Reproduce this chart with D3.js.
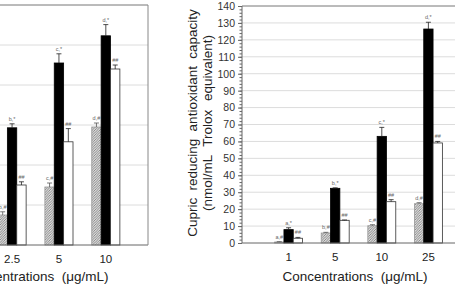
<!DOCTYPE html>
<html>
<head>
<meta charset="utf-8">
<script src="https://cdn.jsdelivr.net/npm/d3@7"></script>
<style>
  html, body { margin: 0; padding: 0; background: #fff; }
  svg { display: block; font-family: Arial, "Liberation Sans", sans-serif; }
</style>
</head>
<body>
<svg id="chart" width="455" height="285"></svg>
<script>
// left panel (cut off by the picture edge)
const leftCats = ["1", "2.5", "5", "10"];
const leftHatched = [3.0, 7.5, 14.5, 29.5];
const leftHatchedErr = [0.5, 0.8, 1.0, 1.0];
const leftBlack = [14.0, 29.3, 45.5, 52.3];
const leftBlackErr = [1.0, 1.0, 2.3, 2.8];
const leftWhite = [8.0, 15.0, 25.8, 44.0];
const leftWhiteErr = [0.8, 0.8, 3.3, 1.0];
const leftHatchedLbl = ["a,#", "b,#", "c,#", "d,#"];
const leftBlackLbl = ["a,*", "b,*", "c,*", "d,*"];

// right panel
const rightCats = ["1", "5", "10", "25"];
const rightHatched = [0.6, 5.9, 10.2, 23.2];
const rightHatchedErr = [0.2, 0.4, 0.6, 0.6];
const rightBlack = [7.9, 32.3, 63.0, 126.4];
const rightBlackErr = [1.1, 0.3, 5.3, 4.0];
const rightWhite = [2.8, 13.4, 24.4, 59.1];
const rightWhiteErr = [0.5, 0.2, 1.2, 0.9];
const rightHatchedLbl = ["a,#", "b,#", "c,#", "d,#"];
const rightBlackLbl = ["a,*", "b,*", "c,*", "d,*"];
const whiteLbl = "##";

const rightTicks = d3.range(0, 141, 10);
const yTitle1 = "Cupric reducing antioxidant capacity";
const yTitle2 = "(nmol/mL Trolox equivalent)";
const xTitle = "Concentrations  (\u03bcg/mL)";

const svg = d3.select("#chart");

const defs = svg.append("defs");
const pat = defs.append("pattern")
    .attr("id", "hatch")
    .attr("patternUnits", "userSpaceOnUse")
    .attr("width", 2.5)
    .attr("height", 2.5);
pat.append("rect").attr("width", 2.5).attr("height", 2.5).attr("fill", "#dadada");
pat.append("path")
    .attr("d", "M-1,1 L1,-1 M0,2.5 L2.5,0 M1.5,3.5 L3.5,1.5")
    .attr("stroke", "#6a6a6a")
    .attr("stroke-width", 0.7);

function drawPanel(p) {
    const g = svg.append("g");
    const x = d3.scalePoint().domain(p.cats).range([p.left, p.right]).padding(p.pad);
    const y = d3.scaleLinear().domain(p.yDomain).range([p.bottom, p.top]);
    const barW = x.step() * 0.2;

    // gridlines
    g.selectAll(".grid").data(p.grid).enter().append("line")
        .attr("x1", p.left).attr("x2", p.right)
        .attr("y1", d => y(d)).attr("y2", d => y(d))
        .attr("stroke", "#dcdcdc").attr("stroke-width", 1);

    const series = [
        { vals: p.hatched, err: p.hatchedErr, lbl: p.hatchedLbl, off: -1.5, fill: "url(#hatch)", stroke: "#999" },
        { vals: p.black, err: p.blackErr, lbl: p.blackLbl, off: -0.5, fill: "#000", stroke: "#000" },
        { vals: p.white, err: p.whiteErr, lbl: p.cats.map(() => whiteLbl), off: 0.5, fill: "#fff", stroke: "#333" }
    ];

    series.forEach(s => {
        const gs = g.append("g");
        const bx = (d, i) => x(p.cats[i]) + s.off * barW;
        gs.selectAll("rect").data(s.vals).enter().append("rect")
            .attr("x", bx)
            .attr("y", d => y(d))
            .attr("width", barW)
            .attr("height", d => y(0) - y(d))
            .attr("fill", s.fill)
            .attr("stroke", s.stroke)
            .attr("stroke-width", 0.8);
        // error bars (upper half only)
        gs.selectAll(".eb").data(s.vals).enter().append("path")
            .attr("d", (d, i) => {
                const cx = bx(d, i) + barW / 2;
                const yt = y(d + s.err[i]);
                return `M${cx},${y(d)} V${yt} M${cx - 2.5},${yt} H${cx + 2.5}`;
            })
            .attr("stroke", s.stroke === "#999" ? "#555" : "#222")
            .attr("stroke-width", 0.8)
            .attr("fill", "none");
        gs.selectAll("text").data(s.vals).enter().append("text")
            .attr("x", (d, i) => bx(d, i) + barW / 2)
            .attr("y", (d, i) => y(d + s.err[i]) - 3)
            .attr("text-anchor", "middle")
            .attr("font-size", "5.5px")
            .attr("fill", "#666")
            .text((d, i) => s.lbl[i]);
    });

    // frame / axes
    g.append("line").attr("x1", p.left).attr("x2", p.right).attr("y1", p.top).attr("y2", p.top)
        .attr("stroke", "#777");
    g.append("line").attr("x1", p.left).attr("x2", p.right).attr("y1", p.bottom).attr("y2", p.bottom)
        .attr("stroke", "#666");
    g.append("line").attr("x1", p.left).attr("x2", p.left).attr("y1", p.top).attr("y2", p.bottom)
        .attr("stroke", "#666");
    if (p.rightFrame) {
        g.append("line").attr("x1", p.right).attr("x2", p.right).attr("y1", p.top).attr("y2", p.bottom)
            .attr("stroke", "#888");
    }

    // y axis
    if (p.yTicks) {
        const ax = g.append("g").attr("transform", `translate(${p.left},0)`)
            .call(d3.axisLeft(y).tickValues(p.yTicks).tickSize(4).tickPadding(3));
        ax.select(".domain").remove();
        ax.selectAll("line").attr("stroke", "#666");
        ax.selectAll("text").attr("font-size", "10.5px").attr("fill", "#333")
            .attr("font-family", "Arial, 'Liberation Sans', sans-serif");
        const minor = g.append("g").attr("transform", `translate(${p.left},0)`)
            .call(d3.axisLeft(y).tickValues(d3.range(p.yDomain[0], p.yDomain[1] + 0.1, 2)).tickSize(2.5).tickFormat(""));
        minor.select(".domain").remove();
        minor.selectAll("line").attr("stroke", "#666");
    }

    // x labels
    g.selectAll(".xl").data(p.cats).enter().append("text")
        .attr("x", d => x(d))
        .attr("y", p.bottom + 18)
        .attr("text-anchor", "middle")
        .attr("font-size", "11.5px")
        .attr("fill", "#222")
        .text(d => d);

    g.append("text")
        .attr("x", p.titleX)
        .attr("y", 281)
        .attr("text-anchor", "middle")
        .attr("font-size", "13.5px")
        .attr("fill", "#222")
        .attr("xml:space", "preserve")
        .style("white-space", "pre")
        .text(xTitle);
}

drawPanel({
    cats: leftCats, left: -77, right: 148, top: 5, bottom: 245, pad: 0.9,
    yDomain: [0, 60], grid: d3.range(10, 60, 10),
    hatched: leftHatched, hatchedErr: leftHatchedErr, hatchedLbl: leftHatchedLbl,
    black: leftBlack, blackErr: leftBlackErr, blackLbl: leftBlackLbl,
    white: leftWhite, whiteErr: leftWhiteErr,
    rightFrame: true, yTicks: null, titleX: 36
});

drawPanel({
    cats: rightCats, left: 242, right: 475, top: 6, bottom: 243, pad: 1,
    yDomain: [0, 140], grid: d3.range(10, 140, 10),
    hatched: rightHatched, hatchedErr: rightHatchedErr, hatchedLbl: rightHatchedLbl,
    black: rightBlack, blackErr: rightBlackErr, blackLbl: rightBlackLbl,
    white: rightWhite, whiteErr: rightWhiteErr,
    rightFrame: false, yTicks: rightTicks, titleX: 355
});

// y title of right panel
const yt = svg.append("g").attr("transform", "translate(0,123) rotate(-90)");
yt.append("text")
    .attr("x", 0).attr("y", 197)
    .attr("text-anchor", "middle")
    .attr("font-size", "13.5px")
    .attr("fill", "#222")
    .attr("word-spacing", "3.5px")
    .text(yTitle1);
yt.append("text")
    .attr("x", 0).attr("y", 212)
    .attr("text-anchor", "middle")
    .attr("font-size", "13.5px")
    .attr("fill", "#222")
    .attr("word-spacing", "5px")
    .text(yTitle2);
</script>
</body>
</html>
